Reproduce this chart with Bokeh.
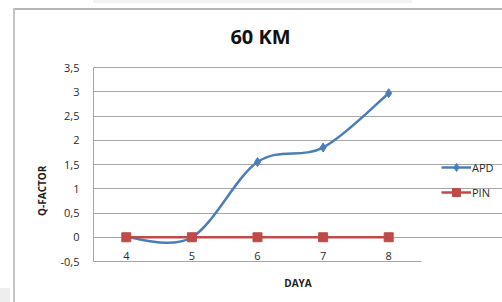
import numpy as np
from bokeh.plotting import figure
from bokeh.models import Range1d, FixedTicker, Legend, LegendItem, Label
from bokeh.embed import file_html
from bokeh.resources import INLINE

daya = [4, 5, 6, 7, 8]
apd = [0.0, 0.0, 1.55, 1.85, 2.97]
pin = [0.0, 0.0, 0.0, 0.0, 0.0]
y_ticks = [-0.5, 0, 0.5, 1, 1.5, 2, 2.5, 3, 3.5]
y_tick_labels = ["-0,5", "0", "0,5", "1", "1,5", "2", "2,5", "3", "3,5"]
title_text = "60 KM"
x_title = "DAYA"
y_title = "Q-FACTOR"

BLUE = "#4a7ebb"
RED = "#be4b48"
GRID = "#a6a6a6"
TXT = "#2b2b2b"
FONT = "Open Sans"

W, H = 502, 302
LEFT, RIGHT, TOP, BOTTOM = 93, 0, 0, 41
PLOT_W, PLOT_H = 328, 194        # size of the gridded plot area in pixels
PLOT_TOP = 67                    # its top edge on the canvas
frame_w = W - LEFT - RIGHT
frame_h = H - TOP - BOTTOM
x_start, x_stop = daya[0] - 0.5, daya[-1] + 0.5
y_start, y_stop = y_ticks[0], y_ticks[-1]
# frame covers the title and legend room too; grid and axes are bounded to the plot area
x_end = x_start + (x_stop - x_start) * frame_w / PLOT_W
y_end = y_start + (y_stop - y_start) * frame_h / PLOT_H
px_per_y = PLOT_H / (y_stop - y_start)

p = figure(width=W, height=H, output_backend="svg", toolbar_location=None,
           x_range=Range1d(x_start, x_end), y_range=Range1d(y_start, y_end),
           min_border_left=LEFT, min_border_right=RIGHT, min_border_top=TOP, min_border_bottom=BOTTOM)
p.outline_line_color = None
p.background_fill_alpha = 0
p.border_fill_alpha = 0
p.styles = {
    "background-color": "white",
    "background-image": ("linear-gradient(#c4c4c4, #c4c4c4), linear-gradient(#b4b4b4, #b4b4b4), "
                         "linear-gradient(#f2f2f2, #f2f2f2), linear-gradient(#eeeeee, #eeeeee)"),
    "background-size": "2px 100%, 100% 2px, 319px 3px, 10px 14px",
    "background-position": "13px 8px, 13px 8px, 93px 0px, 0px 288px",
    "background-repeat": "no-repeat",
}

title = Label(x=(x_start + x_stop) / 2, y=y_stop + (PLOT_TOP - 36) / px_per_y, x_offset=3,
              text=title_text, text_align="center", text_baseline="middle",
              text_font=FONT, text_font_size="20px", text_font_style="bold", text_color="#111111")
p.add_layout(title)

# smoothed APD curve (Excel-like cardinal spline built from the data)
x = np.array(daya, float)
y = np.array(apd, float)
px = np.r_[x[0], x[:-1]]; nx = np.r_[x[1:], x[-1]]
py = np.r_[y[0], y[:-1]]; ny = np.r_[y[1:], y[-1]]
tx = (nx - px) / 6.0
ty = (ny - py) / 6.0
b = p.bezier(x0=x[:-1], y0=y[:-1], x1=x[1:], y1=y[1:],
             cx0=x[:-1] + tx[:-1], cy0=y[:-1] + ty[:-1],
             cx1=x[1:] - tx[1:], cy1=y[1:] - ty[1:],
             line_color=BLUE, line_width=2.5)
sa = p.scatter(daya, apd, marker="diamond", size=9, fill_color=BLUE, line_color=BLUE)

lp = p.line(daya, pin, line_color=RED, line_width=2.5)
sp = p.scatter(daya, pin, marker="square", size=9, fill_color=RED, line_color=RED)

p.xaxis.ticker = FixedTicker(ticks=daya)
p.xaxis.bounds = (x_start, x_stop)
p.yaxis.ticker = FixedTicker(ticks=y_ticks)
p.yaxis.bounds = (y_start, y_stop)
p.yaxis.major_label_overrides = {t: l for t, l in zip(y_ticks, y_tick_labels)}
for ax in (p.xaxis, p.yaxis):
    ax.axis_line_color = GRID
    ax.major_tick_line_color = None
    ax.minor_tick_line_color = None
    ax.major_label_text_font = FONT
    ax.major_label_text_font_size = "11px"
    ax.major_label_text_color = TXT
    ax.axis_label_text_font = FONT
    ax.axis_label_text_font_size = "10px"
    ax.axis_label_text_font_style = "bold"
    ax.axis_label_text_color = "#222222"
p.xaxis.axis_label = x_title
# trailing no-break spaces push the rotated label down to the middle of the gridded area
p.yaxis.axis_label = y_title + "\u00a0" * 46
p.yaxis.major_label_standoff = 8
p.yaxis.axis_label_standoff = 9
p.xaxis.major_label_standoff = -16
p.xaxis.axis_label_standoff = 13

p.xgrid.grid_line_color = None
p.ygrid.grid_line_color = GRID
p.ygrid.grid_line_width = 1
p.ygrid.bounds = (x_start, x_stop)

legend = Legend(items=[LegendItem(label="APD", renderers=[b, sa]),
                       LegendItem(label="PIN", renderers=[lp, sp])],
                location=(348, 59), border_line_color=None, background_fill_alpha=0,
                margin=0, padding=0, glyph_width=30, glyph_height=20,
                label_standoff=1, spacing=5,
                label_text_font=FONT, label_text_font_size="11px", label_text_color=TXT)
p.add_layout(legend, "center")

open("out.html", "w").write(file_html(p, INLINE))
